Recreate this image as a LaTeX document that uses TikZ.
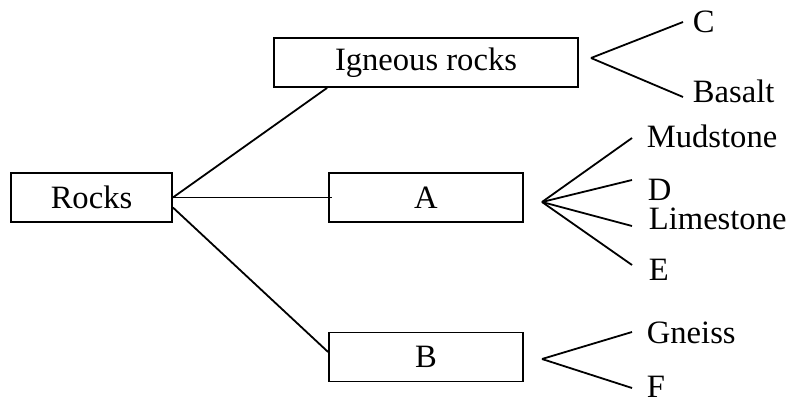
\documentclass[tikz,border=0pt]{standalone}
\usepackage{fontspec}
\setmainfont{Liberation Serif}
\usetikzlibrary{positioning}

\begin{document}
\begin{tikzpicture}[
    x=0.5pt, y=-0.5pt,
    line width=0.9pt,
    rockbox/.style={draw, minimum height=24.5pt, inner sep=0pt, font=\fontsize{16.3}{19}\selectfont},
    leaf/.style={anchor=base west, inner sep=0pt, font=\fontsize{16.3}{19}\selectfont},
    ]
    \useasboundingbox (0,0) rectangle (786,401);
    % boxes
    \node[rockbox, minimum width=80.5pt] (rocks) at (91.5,197.5) {Rocks};
    \node[rockbox, minimum width=152pt] (ign) at (426,62.5) {Igneous rocks};
    \node[rockbox, minimum width=97pt] (a) at (426,197.5) {A};
    \node[rockbox, minimum width=97pt] (b) at (426,357) {B};
    % branches from Rocks
    \draw (rocks.east) -- ([xshift=27pt]ign.south west);
    \draw (rocks.east) -- ([xshift=2pt]a.west);
    \draw ([yshift=-5pt]rocks.east) -- ([yshift=2.5pt]b.west);
    % fan points
    \coordinate (ign-fan) at (591,58);
    \coordinate (a-fan) at (542,202);
    \coordinate (b-fan) at (542,359);
    % leaves
    \foreach \name/\ex/\ey/\tx/\ty/\txt in {
        c/683/22/692/33/C,
        basalt/683/97/692/103/Basalt,
        mudstone/632/138/646/148/Mudstone,
        d/632/180/647/200/D,
        limestone/632/226/648/229/Limestone,
        e/632/265/648/280/E,
        gneiss/632/332/646/343/Gneiss,
        f/632/388/646/397/F}{
            \node[leaf] (\name) at (\tx,\ty) {\txt};
            \coordinate (\name-end) at (\ex,\ey);
        }
    \foreach \leaf in {c,basalt}
        \draw (ign-fan) -- (\leaf-end);
    \foreach \leaf in {mudstone,d,limestone,e}
        \draw (a-fan) -- (\leaf-end);
    \foreach \leaf in {gneiss,f}
        \draw (b-fan) -- (\leaf-end);
\end{tikzpicture}
\end{document}
